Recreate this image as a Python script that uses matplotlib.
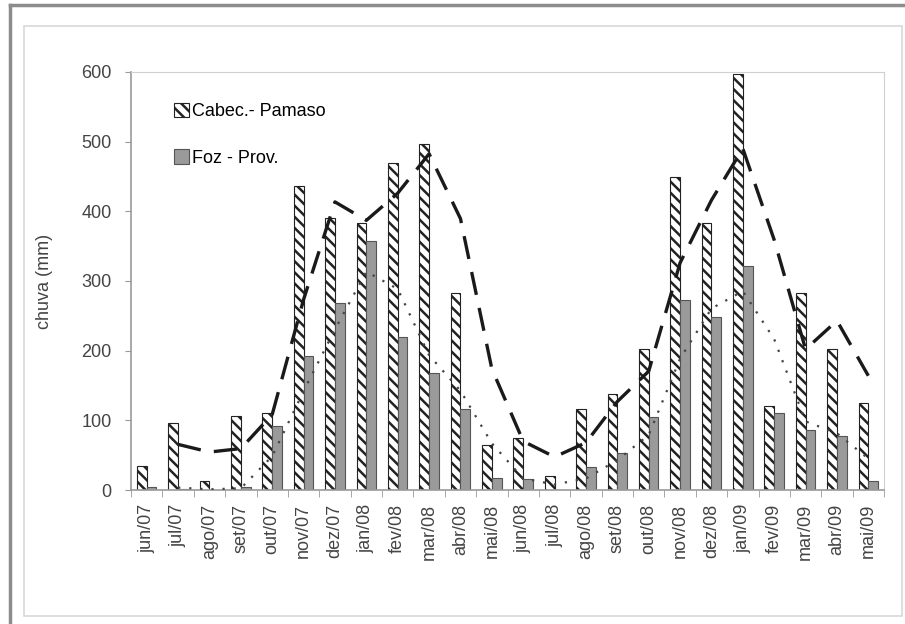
import numpy as np
import pandas as pd
import matplotlib
matplotlib.use("Agg")
import matplotlib.pyplot as plt
from matplotlib.lines import Line2D
from matplotlib.patches import Rectangle

months = ["jun/07", "jul/07", "ago/07", "set/07", "out/07", "nov/07", "dez/07",
          "jan/08", "fev/08", "mar/08", "abr/08", "mai/08", "jun/08", "jul/08",
          "ago/08", "set/08", "out/08", "nov/08", "dez/08", "jan/09", "fev/09",
          "mar/09", "abr/09", "mai/09"]
cabec = [35, 96, 13, 106, 111, 436, 391, 383, 469, 496, 283, 65,
         75, 20, 116, 138, 203, 449, 383, 597, 121, 283, 203, 125]
foz = [5, 2, 0, 5, 92, 192, 269, 358, 219, 168, 117, 17,
       16, 0, 33, 53, 105, 272, 249, 322, 111, 86, 77, 13]

plt.rcParams["font.family"] = ["Liberation Sans", "DejaVu Sans"]
plt.rcParams["hatch.linewidth"] = 1.8

fig = plt.figure(figsize=(9.05, 6.24), dpi=100)
# outer frames (dark on top/left, light inner box)
fig.lines.append(Line2D([0.011, 0.011], [0, 0.992], transform=fig.transFigure,
                        color="#8c8c8c", linewidth=2.5))
fig.lines.append(Line2D([0.011, 1.0], [0.992, 0.992], transform=fig.transFigure,
                        color="#8c8c8c", linewidth=2.5))
fig.patches.append(Rectangle((0.026, 0.013), 0.971, 0.945, transform=fig.transFigure,
                             fill=False, edgecolor="#d8d8d8", linewidth=1.2))

ax = fig.add_axes([0.1448, 0.2147, 0.832, 0.670])
x = np.arange(len(months))
w = 0.31
ax.bar(x - w / 2, cabec, w, color="white", edgecolor="#222222", hatch="\\\\\\",
       linewidth=0.8, label="Cabec.- Pamaso", zorder=2)
ax.bar(x + w / 2, foz, w, color="#9a9a9a", edgecolor="#555555",
       linewidth=0.8, label="Foz - Prov.", zorder=2)

# 2-period moving average trend lines
ma_cabec = pd.Series(cabec).rolling(2).mean()
ma_foz = pd.Series(foz).rolling(2).mean()
ax.plot(x, ma_cabec, color="#1a1a1a", linewidth=2.4, dashes=(7, 4), zorder=3)
ax.plot(x, ma_foz, color="#444444", linewidth=1.6, dashes=(1, 4), zorder=3)

ax.set_xlim(-0.5, len(months) - 0.5)
ax.set_ylim(0, 600)
ax.set_yticks(range(0, 601, 100))
ax.set_xticks(x)
ax.set_xticklabels(months, rotation=90, fontsize=13, color="#444444")
ax.set_xticks(np.arange(-0.5, len(months), 1), minor=True)
ax.tick_params(axis="x", which="major", length=0, pad=10)
ax.tick_params(axis="x", which="minor", length=5, color="#999999", direction="out")
ax.tick_params(axis="y", labelsize=13, labelcolor="#444444", length=4,
               color="#999999", pad=10)
for side in ["top", "right"]:
    ax.spines[side].set_color("#d0d0d0")
for side in ["left", "bottom"]:
    ax.spines[side].set_color("#999999")
    ax.spines[side].set_linewidth(1.2)
ax.set_ylabel("chuva (mm)", fontsize=13, color="#444444", labelpad=20)

ax.legend(loc="upper left", bbox_to_anchor=(0.035, 0.965), frameon=False,
          fontsize=13, labelspacing=1.6, handlelength=0.85, handleheight=0.85,
          handletextpad=0.15)

fig.savefig("out.png", dpi=100)
